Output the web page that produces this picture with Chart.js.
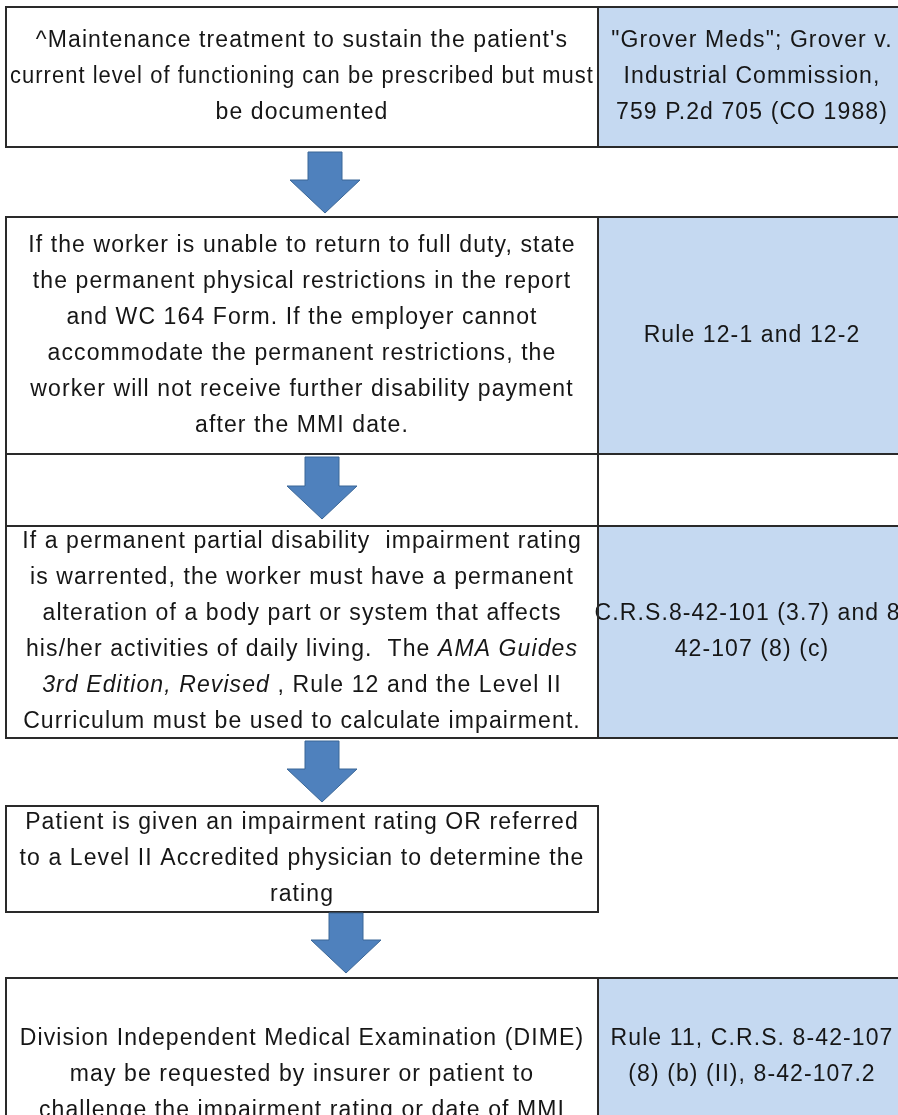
<!DOCTYPE html>
<html>
<head>
<meta charset="utf-8">
<script src="https://cdn.jsdelivr.net/npm/chart.js@4.4.1/dist/chart.umd.min.js"></script>
<style>
  html, body { margin: 0; padding: 0; background: #fff; }
  canvas { display: block; }
</style>
</head>
<body>
<canvas id="flowChart" width="898" height="1115"></canvas>
<script>
// flow steps, left column. one entry per printed line, _text_ = italic
const stepTexts = [
    ["^Maintenance treatment to sustain the patient's",
     "current level of functioning can be prescribed but must",
     "be documented"],
    ["If the worker is unable to return to full duty, state",
     "the permanent physical restrictions in the report",
     "and WC 164 Form. If the employer cannot",
     "accommodate the permanent restrictions, the",
     "worker will not receive further disability payment",
     "after the MMI date."],
    ["If a permanent partial disability  impairment rating",
     "is warrented, the worker must have a permanent",
     "alteration of a body part or system that affects",
     "his/her activities of daily living.  The _AMA Guides_",
     "_3rd Edition, Revised_ , Rule 12 and the Level II",
     "Curriculum must be used to calculate impairment."],
    ["Patient is given an impairment rating OR referred",
     "to a Level II Accredited physician to determine the",
     "rating"],
    ["",
     "Division Independent Medical Examination (DIME)",
     "may be requested by insurer or patient to",
     "challenge the impairment rating or date of MMI"]
];

// legal reference for each step (right column), null = none
const ruleTexts = [
    ["\"Grover Meds\"; Grover v.", "Industrial Commission,", "759 P.2d 705 (CO 1988)"],
    ["Rule 12-1 and 12-2"],
    ["C.R.S.8-42-101 (3.7) and 8-", "42-107 (8) (c)"],
    null,
    ["Rule 11, C.R.S. 8-42-107", "(8) (b) (II), 8-42-107.2"]
];

// sheet layout (pixel units of the scales)
const colEdges = [6, 598, 906];
const rows = [
    { top: 7,   bottom: 147,  step: 0 },
    { top: 217, bottom: 454,  step: 1 },
    { top: 454, bottom: 526,  step: null, emptyRight: true },
    { top: 526, bottom: 738,  step: 2 },
    { top: 806, bottom: 912,  step: 3 },
    { top: 978, bottom: 1135, step: 4 }
];
const arrows = [
    { x: 325, top: 152, tip: 213 },
    { x: 322, top: 457, tip: 519 },
    { x: 322, top: 741, tip: 802 },
    { x: 346, top: 913, tip: 973 }
];

const FONT = '"Liberation Sans", Arial, sans-serif';
const FONT_SIZE = 23;
const LINE_H = 36;

function drawLines(ctx, lines, cx, cy, maxW) {
    ctx.textBaseline = 'middle';
    ctx.textAlign = 'left';
    ctx.fillStyle = '#161616';
    try { ctx.letterSpacing = '1.1px'; } catch (e) {}
    const n = lines.length;
    lines.forEach((line, i) => {
        const ly = cy + (i - (n - 1) / 2) * LINE_H;
        const runs = line.split('_').map((t, k) => ({ t, italic: k % 2 === 1 })).filter(r => r.t.length);
        let total = 0;
        runs.forEach(r => {
            ctx.font = (r.italic ? 'italic ' : '') + FONT_SIZE + 'px ' + FONT;
            r.w = ctx.measureText(r.t).width;
            total += r.w;
        });
        const k = total > maxW ? maxW / total : 1;
        let px = cx - total * k / 2;
        runs.forEach(r => {
            ctx.font = (r.italic ? 'italic ' : '') + FONT_SIZE + 'px ' + FONT;
            ctx.save();
            ctx.translate(px, ly);
            ctx.scale(k, 1);
            ctx.fillText(r.t, 0, 0);
            ctx.restore();
            px += r.w * k;
        });
    });
}

function drawArrow(ctx, cx, y0, y2) {
    const shaft = 34, head = 70, headLen = 33;
    const y1 = y2 - headLen;
    ctx.beginPath();
    ctx.moveTo(cx - shaft / 2, y0);
    ctx.lineTo(cx + shaft / 2, y0);
    ctx.lineTo(cx + shaft / 2, y1);
    ctx.lineTo(cx + head / 2, y1);
    ctx.lineTo(cx, y2);
    ctx.lineTo(cx - head / 2, y1);
    ctx.lineTo(cx - shaft / 2, y1);
    ctx.closePath();
    ctx.fillStyle = '#4f81bd';
    ctx.fill();
    ctx.lineWidth = 1;
    ctx.strokeStyle = '#3b6797';
    ctx.stroke();
}

const flowPlugin = {
    id: 'flowCells',
    beforeDraw(chart) {
        const { ctx, scales: { x, y } } = chart;
        const xl = x.getPixelForValue(colEdges[0]);
        const xm = x.getPixelForValue(colEdges[1]);
        const xr = x.getPixelForValue(colEdges[2]);
        ctx.save();
        ctx.fillStyle = '#fff';
        ctx.fillRect(0, 0, chart.width, chart.height);

        rows.forEach(r => {
            const y0 = y.getPixelForValue(r.top), y1 = y.getPixelForValue(r.bottom);
            const rule = r.step !== null ? ruleTexts[r.step] : null;
            if (rule) {
                ctx.fillStyle = '#c5d9f1';
                ctx.fillRect(xm, y0, xr - xm, y1 - y0);
            }
            if (r.step !== null) {
                drawLines(ctx, stepTexts[r.step], (xl + xm) / 2, (y0 + y1) / 2, xm - xl - 8);
            }
            if (rule) {
                drawLines(ctx, rule, (xm + xr) / 2, (y0 + y1) / 2, 1000);
            }
            ctx.lineWidth = 2;
            ctx.strokeStyle = '#2a2a2a';
            ctx.strokeRect(xl, y0, xm - xl, y1 - y0);
            if (rule || r.emptyRight) ctx.strokeRect(xm, y0, xr - xm, y1 - y0);
        });

        arrows.forEach(a => {
            drawArrow(ctx, x.getPixelForValue(a.x), y.getPixelForValue(a.top), y.getPixelForValue(a.tip));
        });
        ctx.restore();
    }
};

new Chart(document.getElementById('flowChart').getContext('2d'), {
    type: 'scatter',
    data: { datasets: [{ data: [], pointRadius: 0 }] },
    options: {
        responsive: false,
        animation: false,
        layout: { padding: 0 },
        plugins: { legend: { display: false }, tooltip: { enabled: false } },
        scales: {
            x: { type: 'linear', min: 0, max: 898, display: false },
            y: { type: 'linear', min: 0, max: 1115, reverse: true, display: false }
        }
    },
    plugins: [flowPlugin]
});
</script>
</body>
</html>
